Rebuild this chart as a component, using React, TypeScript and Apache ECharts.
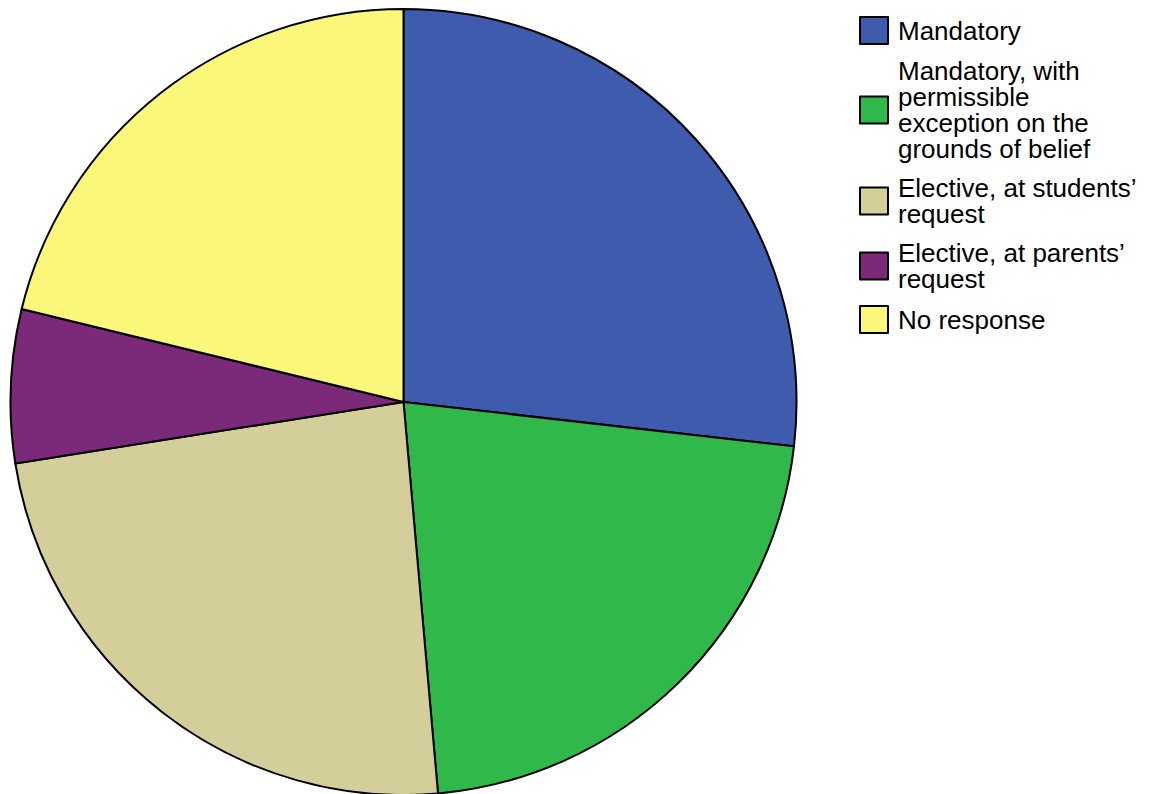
import React, { useEffect, useRef } from "react";
import * as echarts from "echarts";

const categories = [
  "Mandatory",
  "Mandatory, with permissible exception on the grounds of belief",
  "Elective, at students’ request",
  "Elective, at parents’ request",
  "No response",
];
const legendLabels = [
  "Mandatory",
  "Mandatory, with\npermissible\nexception on the\ngrounds of belief",
  "Elective, at students’\nrequest",
  "Elective, at parents’\nrequest",
  "No response",
];
const values = [26.8, 21.8, 23.9, 6.3, 21.2];
const colors = ["#3E5BAD", "#30B84A", "#D4CE9A", "#7B2979", "#FAF77A"];

export default function App() {
  const ref = useRef<HTMLDivElement>(null);
  useEffect(() => {
    if (!ref.current) return;
    const chart = echarts.init(ref.current, null, { renderer: "svg" });
    const labelMap: Record<string, string> = {};
    categories.forEach((c, i) => (labelMap[c] = legendLabels[i]));
    chart.setOption({
      animation: false,
      backgroundColor: "#ffffff",
      legend: {
        orient: "vertical",
        left: 859,
        top: 16,
        padding: 0,
        itemWidth: 28,
        itemHeight: 27,
        itemGap: 13,
        selectedMode: false,
        icon: "rect",
        formatter: (name: string) => labelMap[name] || name,
        itemStyle: { borderColor: "#000000", borderWidth: 2 },
        textStyle: {
          fontFamily: "Liberation Sans, Arial, sans-serif",
          fontSize: 26,
          lineHeight: 26,
          color: "#000000",
          padding: [0, 0, 0, 5],
        },
        data: categories,
      },
      series: [
        {
          type: "pie",
          center: [403.5, 402],
          radius: [0, 393],
          startAngle: 90,
          clockwise: true,
          silent: true,
          label: { show: false },
          labelLine: { show: false },
          itemStyle: { borderColor: "#000000", borderWidth: 2 },
          data: categories.map((c, i) => ({
            name: c,
            value: values[i],
            itemStyle: { color: colors[i] },
          })),
        },
      ],
    });
    return () => chart.dispose();
  }, []);
  return (
    <div
      ref={ref}
      style={{ position: "absolute", left: 0, top: 0, width: 1150, height: 794 }}
    />
  );
}
